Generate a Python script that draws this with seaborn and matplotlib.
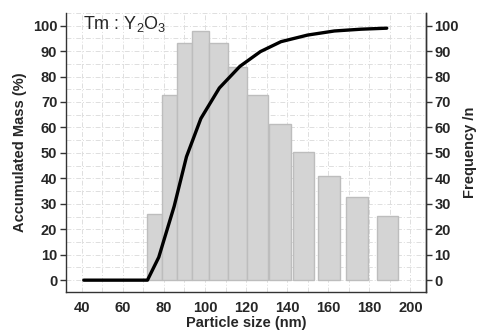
import matplotlib
matplotlib.use("Agg")
import matplotlib.pyplot as plt
from matplotlib.ticker import MultipleLocator
import seaborn as sns
import pandas as pd
import numpy as np

# =====================================================
# DATA
# =====================================================

bin_left = [71.9, 78.9, 86.3, 93.8, 102.0, 111.1, 120.6, 131.3, 142.7, 155.2, 168.7, 183.6]
bin_right = [78.9, 86.3, 93.8, 102.0, 111.1, 120.6, 130.8, 141.8, 153.1, 165.6, 179.4, 194.0]
frequency = [25.8, 72.7, 93.3, 97.9, 93.1, 83.9, 72.7, 61.2, 50.5, 40.9, 32.8, 25.3]

size_nm = [41, 72, 77.5, 85, 91, 98, 107, 117, 127, 137, 150, 163, 176, 188.5]
accum_mass = [0, 0, 9, 29, 48.5, 63.5, 75.5, 84, 89.8, 93.7, 96.3, 97.9, 98.6, 99]

# =====================================================
# STYLE
# =====================================================

sns.set_style("white")
plt.rcParams["font.family"] = ["Liberation Sans", "DejaVu Sans"]
plt.rcParams["mathtext.fontset"] = "custom"
plt.rcParams["mathtext.rm"] = "Liberation Sans"
plt.rcParams["mathtext.it"] = "Liberation Sans:italic"

fig = plt.figure(figsize=(4.81, 3.33), dpi=100)
ax = fig.add_axes([0.1366, 0.122, 0.749, 0.84])

# =====================================================
# BARS (frequency histogram)
# =====================================================

widths = np.array(bin_right) - np.array(bin_left)
ax.bar(bin_left, frequency, width=widths, align="edge",
       color="#d4d4d4", edgecolor="#bdbdbd", linewidth=1.0, zorder=2)

# =====================================================
# ACCUMULATED MASS CURVE
# =====================================================

curve = pd.DataFrame({"size": size_nm, "mass": accum_mass})
sns.lineplot(data=curve, x="size", y="mass", ax=ax,
             color="black", linewidth=2.4, zorder=3)

# =====================================================
# AXES
# =====================================================

ax.set_xlim(32.2, 207.6)
ax.set_ylim(-4.8, 105.1)
ax.xaxis.set_major_locator(MultipleLocator(20))
ax.xaxis.set_minor_locator(MultipleLocator(10))
ax.yaxis.set_major_locator(MultipleLocator(10))
ax.yaxis.set_minor_locator(MultipleLocator(5))

ax.grid(True, which="both", color="#dedede", linestyle=(0, (5, 2, 1, 2)),
        linewidth=0.7, zorder=0)
ax.set_axisbelow(True)

ax.tick_params(axis="x", which="major", direction="out", length=4,
               width=1, color="#333333", labelsize=10.5, pad=2)
ax.tick_params(axis="x", which="minor", direction="in", length=2,
               width=0.8, color="#bbbbbb")
ax.tick_params(axis="y", which="major", direction="out", length=4,
               width=1, color="#333333", labelsize=10.5, pad=2)
ax.tick_params(axis="y", which="minor", length=0)
for lab in ax.get_xticklabels() + ax.get_yticklabels():
    lab.set_fontweight("bold")

ax.set_xlabel("Particle size (nm)", fontsize=10.5, fontweight="bold", labelpad=1)
ax.set_ylabel("Accumulated Mass (%)", fontsize=10.5, fontweight="bold", labelpad=4)

for side in ["left", "bottom", "right"]:
    ax.spines[side].set_visible(True)
    ax.spines[side].set_color("#333333")
    ax.spines[side].set_linewidth(1.0)
ax.spines["top"].set_visible(False)

# right axis: frequency
ax2 = ax.twinx()
ax2.set_ylim(ax.get_ylim())
ax2.yaxis.set_major_locator(MultipleLocator(10))
ax2.tick_params(axis="y", direction="out", length=4, width=1,
                color="#333333", labelsize=10.5, pad=2)
for lab in ax2.get_yticklabels():
    lab.set_fontweight("bold")
ax2.set_ylabel("Frequency /n", fontsize=10.5, fontweight="bold", labelpad=3)
ax2.spines["top"].set_visible(False)
ax2.spines["right"].set_color("#333333")
ax2.spines["right"].set_linewidth(1.0)
ax2.spines["left"].set_visible(False)
ax2.spines["bottom"].set_visible(False)

ax.text(40.6, 100.5, "Tm : Y$_2$O$_3$", fontsize=13, ha="left", va="center")

plt.savefig("out.png", dpi=100)
plt.close()
